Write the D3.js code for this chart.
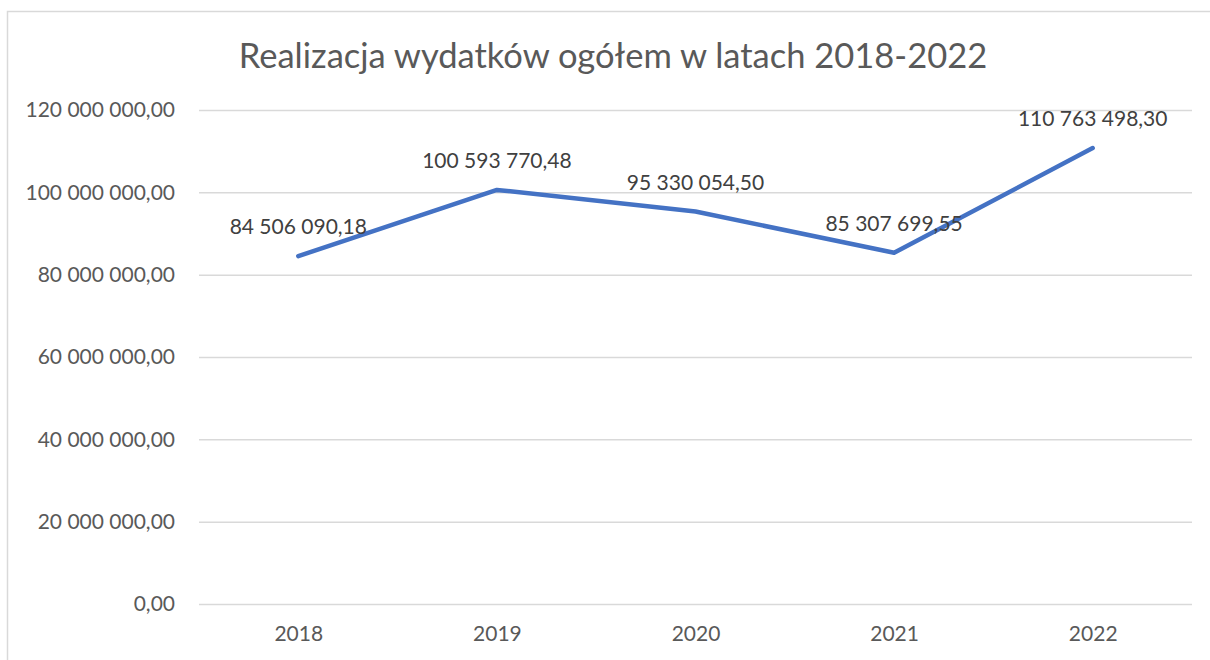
<!DOCTYPE html>
<html>
<head>
<meta charset="utf-8">
<script src="https://cdn.jsdelivr.net/npm/d3@7.9.0/dist/d3.min.js"></script>
<style>
  body { margin: 0; background: #fff; }
  svg { display: block; font-family: Lato, "Open Sans", sans-serif; }
</style>
</head>
<body>
<svg id="chart"></svg>
<script>
const title = 'Realizacja wydatków ogółem w latach 2018-2022';
const years = ['2018', '2019', '2020', '2021', '2022'];
const spending = [84506090.18, 100593770.48, 95330054.50, 85307699.55, 110763498.30];
const yTicks = [0, 20000000, 40000000, 60000000, 80000000, 100000000, 120000000];

const width = 1210;
const height = 660;
const margin = { top: 110, right: 18, bottom: 56, left: 199 };

const svg = d3.select('#chart').attr('width', width).attr('height', height);

// chart frame (cut off at right and bottom)
svg.append('rect')
  .attr('x', 7.5).attr('y', 11.5)
  .attr('width', width).attr('height', height)
  .attr('fill', 'none').attr('stroke', '#d9d9d9').attr('stroke-width', 1.5);

const x = d3.scalePoint()
  .domain(years)
  .range([margin.left, width - margin.right])
  .padding(0.5);

const y = d3.scaleLinear()
  .domain([0, 120000000])
  .range([height - margin.bottom, margin.top]);

// Polish number format: space thousands, comma decimals
const pl = d3.formatLocale({ decimal: ',', thousands: '\u00a0', grouping: [3], currency: ['', ''] });
const fmt = pl.format(',.2f');

// gridlines
svg.append('g')
  .attr('transform', `translate(${margin.left},0)`)
  .call(d3.axisLeft(y).tickValues(yTicks).tickFormat('').tickSize(-(width - margin.right - margin.left)))
  .call(g => g.select('.domain').remove())
  .call(g => g.selectAll('line').attr('stroke', '#d9d9d9').attr('stroke-width', 1.5));

// y labels
svg.append('g')
  .attr('transform', `translate(${margin.left},0)`)
  .call(d3.axisLeft(y).tickValues(yTicks).tickFormat(fmt).tickSize(0).tickPadding(24))
  .call(g => g.select('.domain').remove())
  .call(g => g.selectAll('text')
    .attr('fill', '#595959')
    .style('font-size', '21px')
    .style('font-family', 'Lato, "Open Sans", sans-serif'));

// x labels
svg.append('g')
  .attr('transform', `translate(0,${height - margin.bottom})`)
  .call(d3.axisBottom(x).tickSize(0).tickPadding(22))
  .call(g => g.select('.domain').remove())
  .call(g => g.selectAll('text')
    .attr('fill', '#595959')
    .style('font-size', '21px')
    .style('font-family', 'Lato, "Open Sans", sans-serif'));

const data = years.map((yr, i) => ({ year: yr, value: spending[i] }));

svg.append('path')
  .datum(data)
  .attr('fill', 'none')
  .attr('stroke', '#4472c4')
  .attr('stroke-width', 4.5)
  .attr('stroke-linejoin', 'round')
  .attr('stroke-linecap', 'round')
  .attr('d', d3.line().x(d => x(d.year)).y(d => y(d.value)));

// data labels
svg.append('g')
  .selectAll('text')
  .data(data)
  .join('text')
  .attr('x', d => x(d.year))
  .attr('y', d => y(d.value) - 22)
  .attr('text-anchor', 'middle')
  .attr('fill', '#404040')
  .style('font-size', '21px')
  .text(d => fmt(d.value));

svg.append('text')
  .attr('x', 613)
  .attr('y', 68)
  .attr('text-anchor', 'middle')
  .attr('fill', '#595959')
  .style('font-size', '34.5px')
  .text(title);
</script>
</body>
</html>
